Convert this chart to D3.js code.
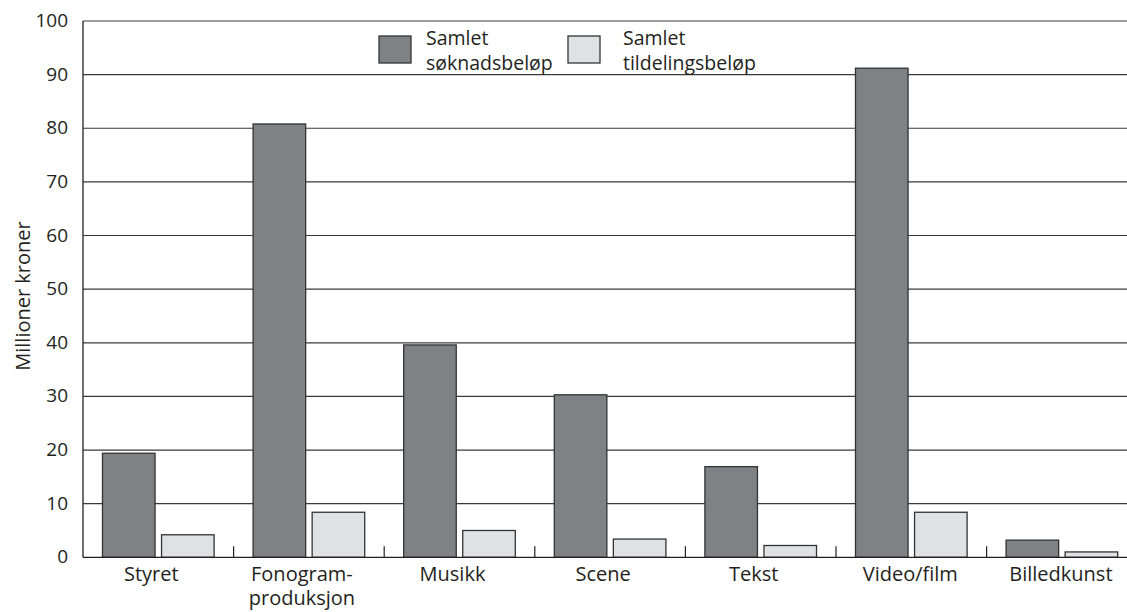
<!DOCTYPE html>
<html>
<head>
<meta charset="utf-8">
<script src="https://cdn.jsdelivr.net/npm/d3@7"></script>
<style>
  body { margin: 0; background: #fff; }
  text { font-family: "Open Sans", sans-serif; fill: #231f20; }
</style>
</head>
<body>
<svg id="chart" width="1127" height="612"></svg>
<script>
const categories = ["Styret", "Fonogram-\nproduksjon", "Musikk", "Scene", "Tekst", "Video/film", "Billedkunst"];
const soknad = [19.4, 80.8, 39.6, 30.3, 16.9, 91.2, 3.2];
const tildeling = [4.2, 8.4, 5.0, 3.4, 2.2, 8.4, 1.0];
const series = ["Samlet\nsøknadsbeløp", "Samlet\ntildelingsbeløp"];
const yTicks = [0, 10, 20, 30, 40, 50, 60, 70, 80, 90, 100];

const padLeft = 83, padTop = 21, baseY = 557.3, bandW = 150.6;
const colors = ["#808184", "#e0e1e2"];
const fs = 20;
// small horizontal nudges of the category labels, as in the original layout
const nudge = [-7, -7, -7, -7, -7, -1, -1];

const svg = d3.select("#chart");

const x = d3.scaleBand(categories, [padLeft, padLeft + bandW * categories.length]);
const x1 = d3.scaleBand([0, 1], [0, x.bandwidth()]).paddingInner(0.11).paddingOuter(0.33);
const y = d3.scaleLinear([0, 100], [baseY, padTop]);

// gridlines
svg.append("g")
  .selectAll("line")
  .data(yTicks.slice(1))
  .enter()
  .append("line")
  .attr("x1", padLeft)
  .attr("x2", 1127)
  .attr("y1", d => y(d))
  .attr("y2", d => y(d))
  .attr("stroke", "#3a3a3a")
  .attr("stroke-width", 1.2);

// y labels
svg.append("g")
  .selectAll("text")
  .data(yTicks)
  .enter()
  .append("text")
  .attr("x", 68)
  .attr("y", d => y(d) + 6)
  .attr("text-anchor", "end")
  .attr("font-size", fs - 1)
  .text(d => d);

svg.append("text")
  .attr("transform", "translate(30,296) rotate(-90)")
  .attr("text-anchor", "middle")
  .attr("font-size", fs)
  .text("Millioner kroner");

// bars
const rows = categories.map((c, i) => ({cat: c, vals: [soknad[i], tildeling[i]]}));
const groups = svg.append("g")
  .selectAll("g")
  .data(rows)
  .enter()
  .append("g")
  .attr("transform", d => "translate(" + x(d.cat) + ",0)");

groups.selectAll("rect")
  .data(d => d.vals.map((v, k) => ({k: k, v: v})))
  .enter()
  .append("rect")
  .attr("x", d => x1(d.k))
  .attr("width", x1.bandwidth())
  .attr("y", d => y(d.v))
  .attr("height", d => baseY - y(d.v))
  .attr("fill", d => colors[d.k])
  .attr("stroke", "#333")
  .attr("stroke-width", 1.3);

// axes lines
svg.append("line")
  .attr("x1", padLeft).attr("x2", padLeft)
  .attr("y1", padTop).attr("y2", baseY)
  .attr("stroke", "#231f20").attr("stroke-width", 1.3);
svg.append("line")
  .attr("x1", padLeft).attr("x2", 1127)
  .attr("y1", baseY).attr("y2", baseY)
  .attr("stroke", "#231f20").attr("stroke-width", 1.3);

// category ticks
svg.append("g")
  .selectAll("line")
  .data(categories.slice(1))
  .enter()
  .append("line")
  .attr("x1", d => x(d))
  .attr("x2", d => x(d))
  .attr("y1", baseY)
  .attr("y2", baseY - 11)
  .attr("stroke", "#231f20")
  .attr("stroke-width", 1.2);

// category labels
const lab = svg.append("g")
  .selectAll("text")
  .data(categories)
  .enter()
  .append("text")
  .attr("x", (d, i) => x(d) + x.bandwidth() / 2 + nudge[i])
  .attr("y", baseY + 24)
  .attr("text-anchor", "middle")
  .attr("font-size", fs);
lab.selectAll("tspan")
  .data(d => d.split("\n"))
  .enter()
  .append("tspan")
  .attr("x", function(){ return this.parentNode.getAttribute("x"); })
  .attr("dy", (d, i) => i ? 24 : 0)
  .text(d => d);

// legend
const legX = [379, 568];
const legTextX = [47, 55];
const leg = svg.append("g")
  .selectAll("g")
  .data(series)
  .enter()
  .append("g")
  .attr("transform", (d, i) => "translate(" + legX[i] + ",36)");
leg.append("rect")
  .attr("width", 32)
  .attr("height", 27)
  .attr("fill", (d, i) => colors[i])
  .attr("stroke", "#333")
  .attr("stroke-width", 1.3);
leg.each(function(d, i){
  d3.select(this).append("text")
    .attr("font-size", fs - 0.5)
    .selectAll("tspan")
    .data(d.split("\n"))
    .enter()
    .append("tspan")
    .attr("x", legTextX[i])
    .attr("y", (s, j) => j ? 33.5 : 8.5)
    .text(s => s);
});
</script>
</body>
</html>
